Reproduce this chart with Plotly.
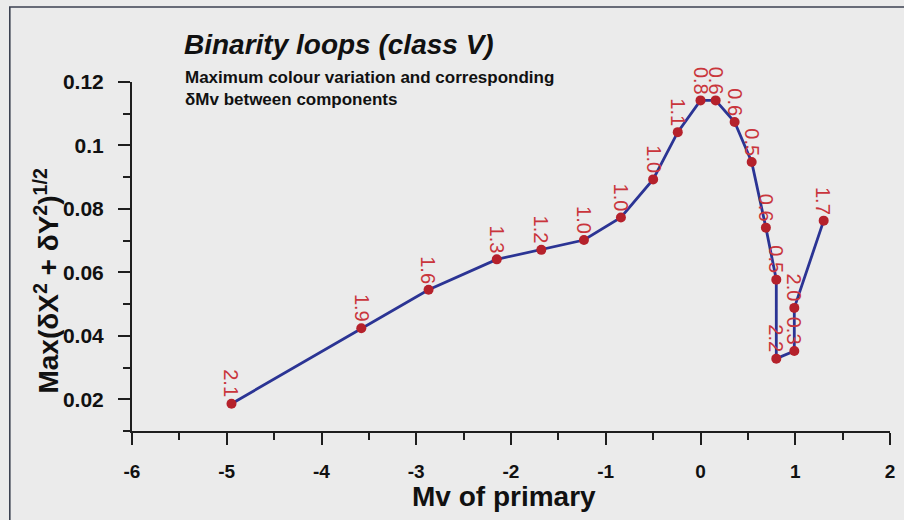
import plotly.graph_objects as go

# ---- data ----
mv_primary = [-4.95, -3.58, -2.87, -2.15, -1.68, -1.23, -0.84, -0.50, -0.24,
              0.00, 0.16, 0.36, 0.54, 0.69, 0.80, 0.80, 0.99, 0.99, 1.30]
max_colour = [0.0186, 0.0424, 0.0545, 0.0641, 0.0671, 0.0702, 0.0773, 0.0893, 0.1042,
              0.1142, 0.1142, 0.1074, 0.0948, 0.0741, 0.0577, 0.0328, 0.0352, 0.0488, 0.0763]
delta_mv = ["2.1", "1.9", "1.6", "1.3", "1.2", "1.0", "1.0", "1.0", "1.1",
            "0.8", "0.6", "0.6", "0.5", "0.6", "0.5", "2.2", "0.3", "2.0", "1.7"]
x_tickvals = [-6, -5, -4, -3, -2, -1, 0, 1, 2]
x_ticktext = ["-6", "-5", "-4", "-3", "-2", "-1", "0", "1", "2"]
y_tickvals = [0.02, 0.04, 0.06, 0.08, 0.10, 0.12]
y_ticktext = ["0.02", "0.04", "0.06", "0.08", "0.1", "0.12"]

BG = "#ebebeb"
FONT = "Arial, Liberation Sans, sans-serif"
AX = "#1e1e1e"

fig = go.Figure()
fig.add_trace(go.Scatter(
    x=mv_primary, y=max_colour, mode="lines+markers",
    line=dict(color="#2b3494", width=2.8),
    marker=dict(color="#b5212b", size=10),
    showlegend=False, hoverinfo="skip", cliponaxis=False,
))

annotations = []
for xv, yv, t in zip(mv_primary, max_colour, delta_mv):
    annotations.append(dict(
        x=xv, y=yv, xref="x", yref="y", text=t, showarrow=False,
        textangle=90, xanchor="center", yanchor="bottom", yshift=4,
        font=dict(family=FONT, size=20, color="#c9353c"),
    ))

# plot area in pixels: x 132..893, y 82..431
L, R, T, B = 132, 9, 82, 89
W, H = 904 - L - R, 520 - T - B

def px(xp):
    return (xp - L) / W

def py(yp):
    return (520 - B - yp) / H

annotations += [
    dict(text="<b><i>Binarity loops (class V)</i></b>", x=px(182), y=py(44),
         xref="paper", yref="paper", xanchor="left", yanchor="middle", showarrow=False,
         font=dict(family=FONT, size=28, color="#111")),
    dict(text="<b>Maximum colour variation and corresponding</b>", x=px(183), y=py(77),
         xref="paper", yref="paper", xanchor="left", yanchor="middle", showarrow=False,
         font=dict(family=FONT, size=17, color="#111")),
    dict(text="<b>\u03b4Mv between components</b>", x=px(183), y=py(99),
         xref="paper", yref="paper", xanchor="left", yanchor="middle", showarrow=False,
         font=dict(family=FONT, size=17, color="#111")),
    dict(text="<b>Max(\u03b4X<sup>2</sup> + \u03b4Y<sup>2</sup>)<sup>1/2</sup></b>",
         x=px(46), y=py(281), xref="paper", yref="paper", textangle=-90,
         xanchor="center", yanchor="middle", showarrow=False,
         font=dict(family=FONT, size=28, color="#111")),
    dict(text="<b>Mv of primary</b>", x=px(506), y=py(496),
         xref="paper", yref="paper", xanchor="center", yanchor="middle", showarrow=False,
         font=dict(family=FONT, size=28, color="#111")),
]

fig.update_layout(
    width=904, height=520,
    margin=dict(l=L, r=R, t=T, b=B),
    paper_bgcolor=BG, plot_bgcolor=BG,
    annotations=annotations,
    shapes=[dict(type="rect", xref="paper", yref="paper",
                 x0=px(9), x1=px(960), y0=py(560), y1=py(7),
                 line=dict(color="#3c4252", width=1.6), fillcolor="rgba(0,0,0,0)",
                 layer="below")],
    xaxis=dict(range=[-6, 2], showgrid=False, zeroline=False,
               showline=True, linecolor=AX, linewidth=2,
               ticks="outside", ticklen=12, tickwidth=2, tickcolor=AX,
               tickvals=x_tickvals, ticktext=x_ticktext, ticklabelstandoff=10,
               tickfont=dict(family=FONT, size=19, color="#111", weight="bold"),
               minor=dict(dtick=0.5, tick0=-6, ticklen=7, tickwidth=2, tickcolor=AX,
                          ticks="outside", showgrid=False)),
    yaxis=dict(range=[0.01, 0.12], showgrid=False, zeroline=False,
               showline=True, linecolor=AX, linewidth=2,
               ticks="outside", ticklen=12, tickwidth=2, tickcolor=AX,
               tickvals=y_tickvals, ticktext=y_ticktext, ticklabelstandoff=10,
               tickfont=dict(family=FONT, size=21, color="#111", weight="bold"),
               minor=dict(dtick=0.01, tick0=0.01, ticklen=7, tickwidth=2, tickcolor=AX,
                          ticks="outside", showgrid=False)),
)

fig.write_html(
    "out.html",
    config={"displayModeBar": False},
    post_script="document.body.style.margin='0';document.body.style.overflow='hidden';",
)
